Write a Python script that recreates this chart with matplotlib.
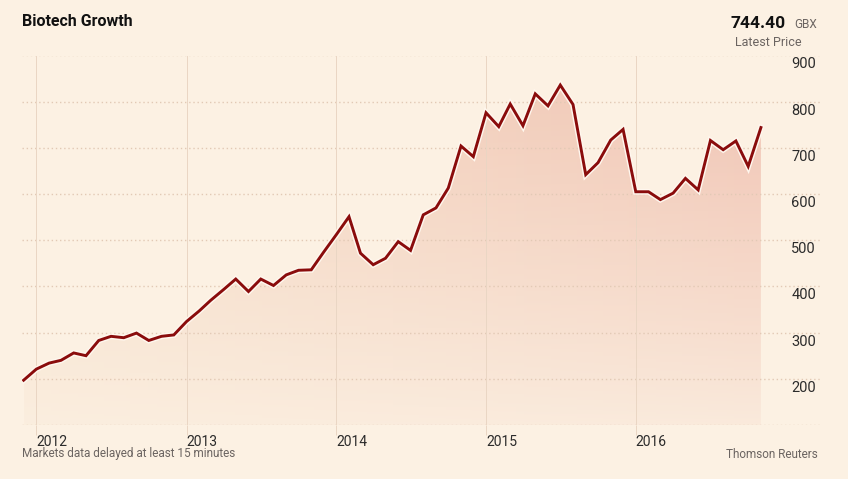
import numpy as np
import pandas as pd
import matplotlib
matplotlib.use("Agg")
import matplotlib.pyplot as plt
import matplotlib.dates as mdates
import matplotlib.patheffects as pe
import matplotlib.transforms as mtransforms

# ---------------- data ----------------
start_month = "2011-12-01"
prices = [197,
          221, 234, 240, 256, 250, 283, 292, 289, 299, 283, 292, 295,
          324, 347, 370, 393, 416, 389, 416, 402, 425, 435, 436, 474,
          512, 551, 472, 447, 461, 497, 478, 555, 570, 613, 704, 681,
          776, 746, 795, 748, 817, 791, 836, 794, 642, 668, 717, 740,
          605, 605, 588, 602, 634, 609, 716, 696, 715, 660, 744]
dates = pd.date_range(start_month, periods=len(prices), freq="MS")
year_ticks = ["2012", "2013", "2014", "2015", "2016"]
y_ticks = [200, 300, 400, 500, 600, 700, 800, 900]
title = "Biotech Growth"
latest_price = "744.40"
currency = "GBX"

# ---------------- fonts ----------------
plt.rcParams["font.family"] = ["Roboto", "DejaVu Sans"]

BG = "#fcf1e3"
GRID = "#e2c9b5"
VLINE = "#ead6c4"
LINE = "#8a0c0c"
TXT = "#2b2b2b"
GREY = "#6b6461"

fig = plt.figure(figsize=(8.48, 4.79), dpi=100, facecolor=BG)
ax = fig.add_axes([22 / 848, 1 - 425 / 479, (820 - 22) / 848, (425 - 55.5) / 479])
ax.set_facecolor(BG)

x0 = mdates.date2num(pd.Timestamp("2011-11-27"))
x1 = mdates.date2num(pd.Timestamp("2017-03-25"))
ax.set_xlim(x0, x1)
ax.set_ylim(100, 900)

xd = mdates.date2num(dates)

# gradient fill under the line
poly = ax.fill_between(xd, prices, 100, color="none", lw=0)
ny, nx = 200, 300
yy = np.linspace(0, 1, ny)[:, None]
xx = np.linspace(0, 1, nx)[None, :]
left_col = np.array([246, 222, 200]) / 255
right_col = np.array([240, 194, 178]) / 255
img = np.zeros((ny, nx, 4))
for c in range(3):
    img[..., c] = left_col[c] + (right_col[c] - left_col[c]) * xx
img[..., 3] = np.clip(0.15 + 0.85 * yy ** 0.9, 0, 1) * np.ones_like(xx)
im = ax.imshow(img, extent=[xd[0], xd[-1], 100, 900], origin="lower",
               aspect="auto", zorder=1, interpolation="bilinear")
im.set_clip_path(poly.get_paths()[0], transform=ax.transData)

# horizontal dotted grid
for v in [100] + y_ticks:
    ax.axhline(v, color=GRID, lw=1.0, ls=(0, (1, 2)), zorder=2)

# vertical year lines
for yr in year_ticks:
    ax.axvline(mdates.date2num(pd.Timestamp(f"{yr}-01-01")), color=VLINE,
               lw=0.7, zorder=2)

# price line
ax.plot(xd, prices, color=LINE, lw=2.1, zorder=4, solid_joinstyle="miter",
        path_effects=[pe.Stroke(linewidth=4.2, foreground="#fff7ee"), pe.Normal()])

for s in ax.spines.values():
    s.set_visible(False)

# x ticks
ax.set_xticks([mdates.date2num(pd.Timestamp(f"{yr}-01-01")) for yr in year_ticks])
ax.set_xticklabels(year_ticks)
ax.tick_params(axis="x", length=7, width=0.7, color=VLINE, pad=0,
               labelsize=10, labelcolor=TXT)
for lbl in ax.get_xticklabels():
    lbl.set_horizontalalignment("left")
ax.set_yticks([])

# y labels inside on the right
trans = mtransforms.blended_transform_factory(ax.transAxes, ax.transData)
trans = trans + mtransforms.ScaledTranslation(-4 / 100, -9 / 100, fig.dpi_scale_trans)
for v in y_ticks:
    ax.text(1.0, v, str(v), transform=trans, ha="right", va="center",
            fontsize=10.5, color=TXT, zorder=5)

# header / footer text
fig.text(22 / 848, 1 - 22 / 479, title, ha="left", va="center",
         fontsize=11.5, fontweight="bold", color="#111111")
fig.text(786 / 848, 1 - 24 / 479, latest_price, ha="right", va="center",
         fontsize=12.5, fontweight="bold", color="#111111")
fig.text(817 / 848, 1 - 25 / 479, currency, ha="right", va="center",
         fontsize=8.5, color=GREY)
fig.text(802 / 848, 1 - 43 / 479, "Latest Price", ha="right", va="center",
         fontsize=9, color=GREY)
fig.text(22 / 848, 1 - 454 / 479, "Markets data delayed at least 15 minutes",
         ha="left", va="center", fontsize=8.5, color=GREY)
fig.text(818 / 848, 1 - 454 / 479, "Thomson Reuters", ha="right", va="center",
         fontsize=8.5, color=GREY)

fig.savefig("out.png", dpi=100, facecolor=BG)
